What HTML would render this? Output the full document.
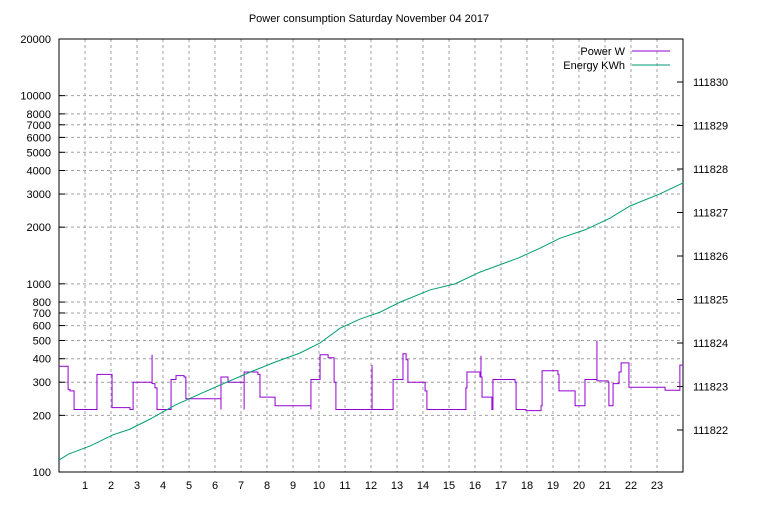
<!DOCTYPE html>
<html><head><meta charset="utf-8"><style>
body{margin:0;background:#fff;}
svg text{font-family:"Liberation Sans",sans-serif;font-size:11px;fill:#000;}
</style></head><body>
<svg id="c" width="768" height="500" xmlns="http://www.w3.org/2000/svg">
<text x="369" y="22" text-anchor="middle">Power consumption Saturday November 04 2017</text>
<g id="grid"></g><g id="axes"></g><g id="series"></g>
<g>
<text x="625" y="55" text-anchor="end">Power W</text>
<line x1="632" y1="51" x2="670" y2="51" stroke="#9400d3"/>
<text x="625" y="69" text-anchor="end">Energy KWh</text>
<line x1="632" y1="65" x2="670" y2="65" stroke="#009e73"/>
</g>
</svg>
<script>
const leftTicks=[100,200,300,400,500,600,700,800,1000,2000,3000,4000,5000,6000,7000,8000,10000,20000];
const rightTicks=[111822,111823,111824,111825,111826,111827,111828,111829,111830];
const hourTicks=[1,2,3,4,5,6,7,8,9,10,11,12,13,14,15,16,17,18,19,20,21,22,23];
// power step data: [hour, watts]
const powerHours=[0,0.35,0.42,0.58,1.46,2.04,2.73,2.85,3.58,3.58,3.58,3.69,3.77,4.31,4.50,4.81,4.88,6.23,6.23,6.23,6.27,6.50,7.12,7.12,7.12,7.65,7.73,8.31,9.69,9.69,9.69,9.96,10.04,10.35,10.58,10.65,12.04,12.04,12.04,12.85,13.23,13.35,13.42,14.08,14.15,15.65,15.69,16.19,16.23,16.23,16.27,16.65,16.69,17.54,17.58,17.96,18.54,18.58,19.19,19.23,19.85,20.23,20.69,20.69,21.12,21.15,21.31,21.54,21.62,21.92,23.31,23.88,24];
const powerVals=[365,275,270,215,330,220,215,300,300,420,295,280,215,310,325,320,245,245,215,320,320,300,300,215,340,330,250,225,225,215,310,310,420,405,300,215,215,370,215,310,425,395,300,270,215,280,340,320,415,320,250,215,310,300,215,212,225,345,330,270,225,310,500,305,300,225,295,340,380,282,272,370,370];
// energy data: [hour, kWh]
const energyHours=[0,0.38,1.19,2.08,2.73,3.5,4.46,5.42,6.38,7.35,8.31,9.27,10.04,10.81,11.58,12.35,13.12,14.27,15.23,16.19,17.65,18.5,19.27,20.23,21.19,21.96,23.12,24];
const energyVals=[111821.31,111821.45,111821.63,111821.89,111822.02,111822.25,111822.57,111822.83,111823.08,111823.33,111823.56,111823.77,111824.0,111824.34,111824.55,111824.71,111824.94,111825.22,111825.36,111825.63,111825.95,111826.18,111826.41,111826.6,111826.87,111827.15,111827.43,111827.68];
const L=59,R=683,T=39,B=472;
const xs=h=>L+(R-L)*h/24;
const ys=v=>B-(B-T)*Math.log10(v/100)/Math.log10(200);
const ye=e=>430-(e-111822)*43.5;
const NS='http://www.w3.org/2000/svg';
function mk(tag,attrs,parent){const e=document.createElementNS(NS,tag);for(const k in attrs)e.setAttribute(k,attrs[k]);document.getElementById(parent).appendChild(e);return e;}
leftTicks.forEach(v=>{const y=ys(v);
 const g=mk('line',{x1:L,x2:R,y1:y,y2:y,stroke:'#a0a0a0','stroke-dasharray':'3,3'},'grid');
 
 
 const tk=mk('line',{x1:L,x2:L+6,y1:y,y2:y,stroke:'#000'},'axes');
 
 
 const t=mk('text',{x:L-8,y:y+4,'text-anchor':'end'},'axes');t.textContent=v;
 
 
});
hourTicks.forEach(h=>{const x=xs(h);
 const g=mk('line',{x1:x,x2:x,y1:T,y2:B,stroke:'#a0a0a0','stroke-dasharray':'3,3'},'grid');
 
 
 const t=mk('text',{x:x,y:B+17,'text-anchor':'middle'},'axes');t.textContent=h;
 
 
});
rightTicks.forEach(v=>{const y=ye(v);
 const tk=mk('line',{x1:R-6,x2:R,y1:y,y2:y,stroke:'#000'},'axes');
 
 
 const t=mk('text',{x:R+10,y:y+4},'axes');t.textContent=v;
 
 
});
const frame=mk('rect',{x:L,y:T,width:R-L,height:B-T,fill:'none',stroke:'#000'},'axes');


let d='';
for(let i=0;i<powerHours.length;i++){const x=xs(powerHours[i]),y=ys(powerVals[i]);
 if(i===0)d+='M'+x+' '+y;else d+='H'+x+'V'+y;}
const p=mk('path',{d:d,fill:'none',stroke:'#9400d3','stroke-width':1},'series');


const pts=energyHours.map((h,i)=>xs(h)+','+ye(energyVals[i])).join(' ');
const e=mk('polyline',{points:pts,fill:'none',stroke:'#009e73','stroke-width':1},'series');


</script>
</body></html>
